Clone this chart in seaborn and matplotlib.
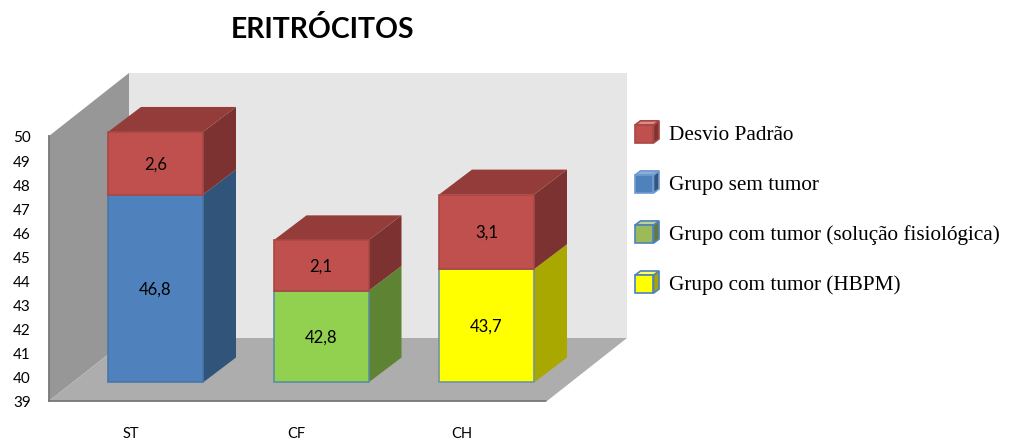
import matplotlib
matplotlib.use("Agg")
import matplotlib.pyplot as plt
import seaborn as sns
from matplotlib.legend_handler import HandlerBase
from matplotlib.patches import Patch, Polygon

groups = ["ST", "CF", "CH"]
mean_values = [46.8, 42.8, 43.7]
deviation_values = [2.6, 2.1, 3.1]
y_ticks = list(range(39, 51))
legend_labels = ["Desvio Padrão", "Grupo sem tumor",
                 "Grupo com tumor (solução fisiológica)", "Grupo com tumor (HBPM)"]
title_text = "ERITRÓCITOS"

W, H = 1013, 439
PX_X = 165.5
PX_Y = 265 / 11
FRONT = ["#4F81BD", "#92D050", "#FFFF00"]
FRONT_EDGE = ["#4A76A8", "#5B8FA0", "#6F93A8"]
SIDE = ["#31547A", "#5E8433", "#A9A800"]
RED, RED_EDGE, RED_SIDE, RED_TOP = "#C0504D", "#A94744", "#7B3230", "#943C3A"

sns.set_theme(style="white")
plt.rcParams["font.family"] = ["Lato", "DejaVu Sans"]
fig = plt.figure(figsize=(W / 100, H / 100), dpi=100)
ax = fig.add_axes([49 / W, 37 / H, 498 / W, 265 / H])

xl, xr = (49 - 131) / PX_X, (547 - 131) / PX_X
wall_dx, wall_dy = 80 / PX_X, 63 / PX_Y
bar_dx, bar_dy = 33 / PX_X, 25 / PX_Y
shift_x, shift_y = 24.5 / PX_X, 18.5 / PX_Y
bar_width = 95 / PX_X
base = y_ticks[0]
top = y_ticks[-1]

sns.barplot(x=groups, y=mean_values, color=FRONT[0], width=bar_width, saturation=1,
            errorbar=None, ax=ax)
n_lower = len(ax.patches)
sns.barplot(x=groups, y=deviation_values, bottom=mean_values, color=RED, width=bar_width,
            saturation=1, errorbar=None, ax=ax)
lower, upper = ax.patches[:n_lower], ax.patches[n_lower:]

ax.set_xlim(xl, xr)
ax.set_ylim(base, top)
ax.set_yticks(y_ticks)
ax.set_xticks(range(len(groups)), groups)
ax.tick_params(axis="y", length=0, pad=13, labelsize=11, colors="black")
ax.tick_params(axis="x", length=0, pad=18, labelsize=10.5, colors="black")
ax.set_xlabel("")
ax.set_ylabel("")
ax.grid(False)
ax.patch.set_alpha(0)

for name in ("top", "right"):
    ax.spines[name].set_visible(False)
for name in ("left", "bottom"):
    ax.spines[name].set(color="#777777", linewidth=1.3, linestyle=(0, (1, 1)))


def poly(points, face, z, edge="none", lw=0.0):
    ax.add_patch(Polygon(points, closed=True, facecolor=face, edgecolor=edge, linewidth=lw,
                         zorder=z, clip_on=False))


poly([(xl, base), (xl, top), (xl + wall_dx, top + wall_dy), (xl + wall_dx, base + wall_dy)],
     "#979797", 0.6)
poly([(xl + wall_dx, base + wall_dy), (xl + wall_dx, top + wall_dy),
      (xr + wall_dx, top + wall_dy), (xr + wall_dx, base + wall_dy)], "#E6E6E6", 0.5)
poly([(xl, base), (xr, base), (xr + wall_dx, base + wall_dy), (xl + wall_dx, base + wall_dy)],
     "#ADADAD", 0.7)

for i, (low, up) in enumerate(zip(lower, upper)):
    low.set_y(base + shift_y)
    low.set_height(mean_values[i] - base)
    low.set_x(low.get_x() + shift_x)
    low.set(facecolor=FRONT[i], edgecolor=FRONT_EDGE[i], linewidth=1.2, zorder=4, clip_on=False)
    up.set_y(up.get_y() + shift_y)
    up.set_x(up.get_x() + shift_x)
    up.set(facecolor=RED, edgecolor=RED_EDGE, linewidth=1.2, zorder=4, clip_on=False)

    left = low.get_x()
    right = left + low.get_width()
    y0, y1 = low.get_y(), low.get_y() + low.get_height()
    y2 = up.get_y() + up.get_height()
    poly([(right, y0), (right, y1), (right + bar_dx, y1 + bar_dy), (right + bar_dx, y0 + bar_dy)],
         SIDE[i], 3)
    poly([(right, y1), (right, y2), (right + bar_dx, y2 + bar_dy), (right + bar_dx, y1 + bar_dy)],
         RED_SIDE, 3)
    poly([(left, y2), (right, y2), (right + bar_dx, y2 + bar_dy), (left + bar_dx, y2 + bar_dy)],
         RED_TOP, 3)
    centre = left + low.get_width() / 2
    ax.text(centre, (y0 + y1) / 2, f"{mean_values[i]:.1f}".replace(".", ","), ha="center",
            va="center", fontsize=12, color="black", zorder=6)
    ax.text(centre, (y1 + y2) / 2, f"{deviation_values[i]:.1f}".replace(".", ","), ha="center",
            va="center", fontsize=12, color="black", zorder=6)


class HandlerCube(HandlerBase):
    def create_artists(self, legend, orig_handle, xdescent, ydescent, width, height, fontsize, trans):
        face = orig_handle.get_facecolor()
        edge = orig_handle.get_edgecolor()
        x0, y0 = -xdescent, -ydescent - 3
        w, h, d = width * 0.77, 13.0, width * 0.23
        rise = 3.0
        dark = tuple(c * 0.65 for c in face[:3])
        light = tuple(min(1, c * 0.65 + 0.35) for c in face[:3])
        specs = [
            ([(x0 + w, y0), (x0 + w, y0 + h), (x0 + w + d, y0 + h + rise), (x0 + w + d, y0 + rise)], dark),
            ([(x0, y0 + h), (x0 + w, y0 + h), (x0 + w + d, y0 + h + rise), (x0 + d, y0 + h + rise)], light),
            ([(x0, y0), (x0 + w, y0), (x0 + w, y0 + h), (x0, y0 + h)], face),
        ]
        return [Polygon(pts, closed=True, facecolor=fc, edgecolor=edge, linewidth=1.2,
                        transform=trans) for pts, fc in specs]


handles = [
    Patch(facecolor=RED, edgecolor=RED_EDGE),
    Patch(facecolor=FRONT[0], edgecolor="#6F9BD0"),
    Patch(facecolor="#9BBB59", edgecolor=FRONT[0]),
    Patch(facecolor=FRONT[2], edgecolor=FRONT[0]),
]
fig.legend(handles, legend_labels, handler_map={Patch: HandlerCube()}, loc="upper left",
           bbox_to_anchor=(635 / W, 1 - 125 / H), frameon=False, labelspacing=1.42,
           handlelength=1.13, handletextpad=0.47, borderpad=0, borderaxespad=0,
           prop={"family": "Liberation Serif", "size": 15.3}, labelcolor="black")

fig.text(322 / W, 1 - 30 / H, title_text, ha="center", va="center", fontsize=20.4,
         fontweight="bold", color="black")

fig.savefig("out.png", dpi=100, facecolor="white")
